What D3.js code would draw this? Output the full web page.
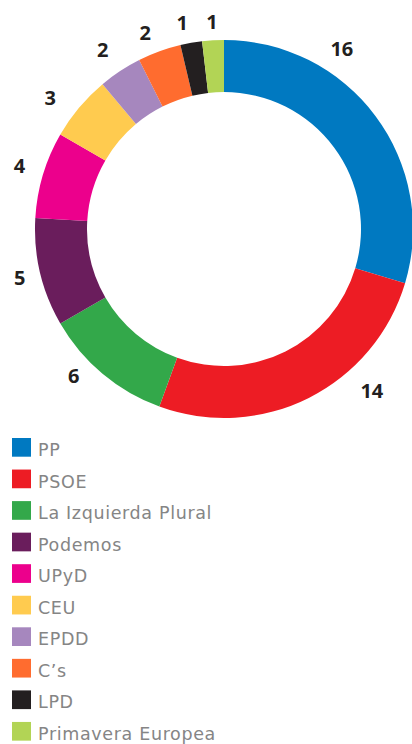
<!DOCTYPE html>
<html>
<head>
<meta charset="utf-8">
<script src="https://cdn.jsdelivr.net/npm/d3@7"></script>
<style>
  html, body { margin: 0; padding: 0; background: #fff; }
  svg { display: block; }
</style>
</head>
<body>
<svg id="chart" width="412" height="744"></svg>
<script>
// ---- data ----
const parties = ["PP", "PSOE", "La Izquierda Plural", "Podemos", "UPyD", "CEU", "EPDD", "C\u2019s", "LPD", "Primavera Europea"];
const seats = [16, 14, 6, 5, 4, 3, 2, 2, 1, 1];
const colors = ["#0079c1", "#ed1c24", "#33a84a", "#6a1d5c", "#ec008c", "#ffcb4f", "#a687be", "#ff6c2f", "#231f20", "#b2d455"];

// ---- layout ----
const cx = 224, cy = 229, outerR = 189, innerR = 137;
const labelShiftDeg = [-20.1, -15.8, 5.7, -0.2, 0.4, -2.9, -0.8, -1.9, -1.5, 0];
const labelRadius = [215, 219, 210, 210, 214, 218, 216, 211, 210, 208];

const svg = d3.select("#chart");
const data = parties.map((p, i) => ({ party: p, value: seats[i], color: colors[i], i }));

const pie = d3.pie().sort(null).value(d => d.value);
const arcs = pie(data);
const arc = d3.arc().innerRadius(innerR).outerRadius(outerR);

const g = svg.append("g").attr("transform", `translate(${cx},${cy})`);
g.selectAll("path.slice").data(arcs).join("path")
  .attr("class", "slice")
  .attr("d", arc)
  .attr("fill", d => d.data.color);

g.selectAll("text.lbl").data(arcs).join("text")
  .attr("class", "lbl")
  .attr("transform", d => {
    const a = (d.startAngle + d.endAngle) / 2 + labelShiftDeg[d.data.i] * Math.PI / 180;
    const r = labelRadius[d.data.i];
    return `translate(${r * Math.sin(a)},${-r * Math.cos(a)})`;
  })
  .attr("text-anchor", "middle")
  .attr("dy", "0.36em")
  .attr("font-family", "'Open Sans', sans-serif")
  .attr("font-weight", "bold")
  .attr("font-size", 20)
  .attr("fill", "#231f20")
  .text(d => d.data.value);

// ---- legend ----
const legendY = d3.scaleBand().domain(parties).range([438, 438 + 31.55 * parties.length]).paddingInner(0);
const lg = svg.append("g").selectAll("g").data(data).join("g")
  .attr("transform", d => `translate(12,${legendY(d.party)})`);
lg.append("rect").attr("width", 19).attr("height", 18.7).attr("fill", d => d.color);
lg.append("text")
  .attr("x", 26).attr("y", 18)
  .attr("font-family", "'DejaVu Sans', sans-serif")
  .attr("font-size", 17.5)
  .attr("letter-spacing", 0.65)
  .attr("fill", "#858585")
  .text(d => d.party);
</script>
</body>
</html>
